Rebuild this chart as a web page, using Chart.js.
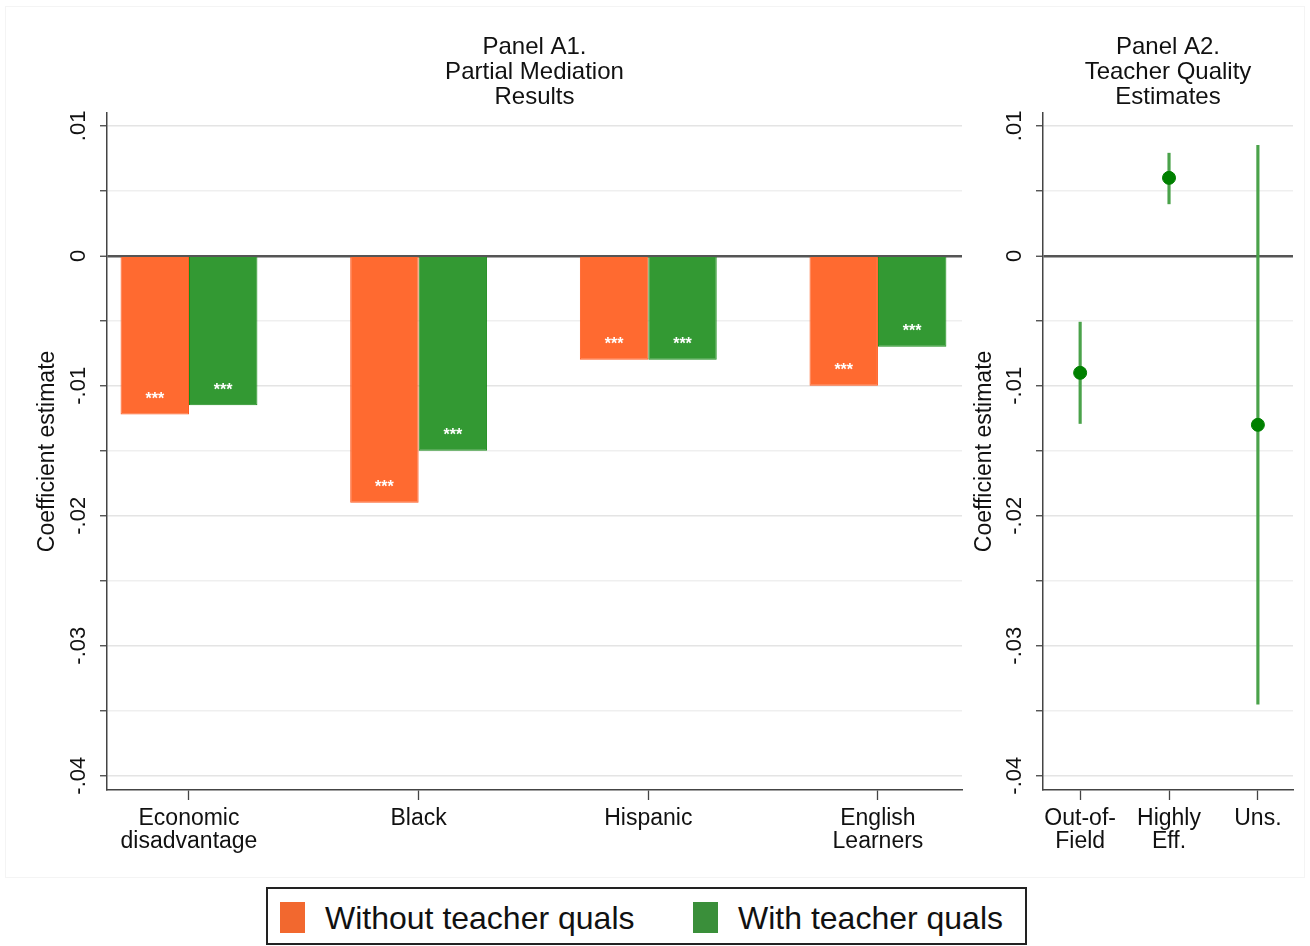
<!DOCTYPE html>
<html>
<head>
<meta charset="utf-8">
<script src="https://cdn.jsdelivr.net/npm/chart.js@4.4.1/dist/chart.umd.min.js"></script>
<style>
  body { margin: 0; background: #fff; font-family: "Liberation Sans", Arial, sans-serif; }
  #wrap { position: relative; width: 1310px; height: 946px; }
  #frame { position: absolute; left: 5px; top: 6px; width: 1300px; height: 872px; border: 1px solid #f4f4f4; box-sizing: border-box; }
  canvas.panel { position: absolute; left: 0; top: 0; }
  #legend { position: absolute; left: 266px; top: 887px; width: 761px; height: 58px; border: 2px solid #222; box-sizing: border-box; }
  #legend .sw { position: absolute; top: 13px; width: 25px; height: 31px; }
  #legend .lb { position: absolute; top: 9px; font-size: 32px; color: #111; line-height: 40px; white-space: nowrap; }
</style>
</head>
<body>
<div id="wrap">
  <div id="frame"></div>
  <canvas id="panelA1" class="panel" width="1310" height="878"></canvas>
  <canvas id="panelA2" class="panel" width="1310" height="878"></canvas>
  <div id="legend">
    <div class="sw" style="left:12px;background:#f2682f;"></div>
    <div class="lb" style="left:57px;">Without teacher quals</div>
    <div class="sw" style="left:425px;background:#3a8f3a;"></div>
    <div class="lb" style="left:470px;">With teacher quals</div>
  </div>
</div>
<script>
// Panel A1 data: partial mediation results.
const categoriesA1 = [['Economic', 'disadvantage'], 'Black', 'Hispanic', ['English', 'Learners']];
const withoutQuals = [-0.0122, -0.0190, -0.0080, -0.0100];
const withQuals = [-0.0115, -0.0150, -0.0080, -0.0070];
const starsWithout = ['***', '***', '***', '***'];
const starsWith = ['***', '***', '***', '***'];

// Panel A2 data: teacher quality estimates with confidence intervals.
const categoriesA2 = [['Out-of-', 'Field'], ['Highly', 'Eff.'], 'Uns.'];
const estimatesA2 = [-0.0090, 0.0060, -0.0130];
const lowerA2 = [-0.0129, 0.0040, -0.0345];
const upperA2 = [-0.0051, 0.0079, 0.0085];

// Shared y axis ticks.
const yTickValues = [0.01, 0.005, 0, -0.005, -0.01, -0.015, -0.02, -0.025, -0.03, -0.035, -0.04];
const yTickLabels = ['.01', '', '0', '', '-.01', '', '-.02', '', '-.03', '', '-.04'];

const FONT = '"Liberation Sans", Arial, sans-serif';
const TEXT = '#111';
const AXIS = '#444';

// Draws the significance stars inside each bar.
const starsPlugin = {
  id: 'stars',
  afterDatasetsDraw(chart) {
    const ctx = chart.ctx;
    const lists = [starsWithout, starsWith];
    ctx.save();
    ctx.font = 'bold 16px ' + FONT;
    ctx.fillStyle = '#ffffff';
    ctx.textAlign = 'center';
    ctx.textBaseline = 'middle';
    lists.forEach((stars, d) => {
      chart.getDatasetMeta(d).data.forEach((bar, i) => {
        ctx.fillText(stars[i], bar.x, bar.y - 15);
      });
    });
    ctx.restore();
  }
};

const yScale = (axisWidth, titlePad) => ({
  min: -0.0411,
  max: 0.0110,
  afterBuildTicks: (scale) => { scale.ticks = yTickValues.map(v => ({ value: v })); },
  afterFit: (scale) => { scale.width = axisWidth; },
  ticks: {
    callback: (value, index) => yTickLabels[index],
    minRotation: 90,
    maxRotation: 90,
    crossAlign: 'center',
    padding: 2,
    color: TEXT,
    font: { family: FONT, size: 22 }
  },
  grid: {
    color: (c) => c.tick && c.tick.value === 0 ? '#555' : (yTickLabels[c.index] ? '#e4e4e4' : '#efefef'),
    lineWidth: (c) => c.tick && c.tick.value === 0 ? 2.5 : 1.5,
    tickColor: AXIS,
    tickWidth: 1.3,
    tickLength: 7
  },
  border: { color: AXIS, width: 1.5 },
  title: {
    display: true,
    text: 'Coefficient estimate',
    color: TEXT,
    font: { family: FONT, size: 23 },
    padding: { top: titlePad, bottom: 0 }
  }
});

const xScale = (labels, min, max) => ({
  type: 'linear',
  min: min,
  max: max,
  offset: false,
  afterBuildTicks: (scale) => { scale.ticks = labels.map((_, i) => ({ value: i })); },
  afterFit: (scale) => { scale.height = 88; },
  ticks: {
    callback: (value, index) => labels[index],
    maxRotation: 0,
    padding: 7,
    color: TEXT,
    font: { family: FONT, size: 23, lineHeight: 1.0 }
  },
  grid: {
    offset: false,
    drawOnChartArea: false,
    tickColor: AXIS,
    tickWidth: 1.3,
    tickLength: 10
  },
  border: { color: AXIS, width: 1.5 }
});

const titleOpts = (lines) => ({
  display: true,
  text: lines,
  fullSize: false,
  color: TEXT,
  font: { family: FONT, size: 24, weight: 'normal', lineHeight: 1.04 },
  padding: { top: 35, bottom: 3 }
});

// Panel A1: grouped bars.
new Chart(document.getElementById('panelA1'), {
  type: 'bar',
  data: {
    datasets: [
      {
        label: 'Without teacher quals',
        data: withoutQuals.map((v, i) => ({ x: i, y: v })),
        backgroundColor: '#ff6a30',
        borderColor: '#ff5a1f',
        borderWidth: 1
      },
      {
        label: 'With teacher quals',
        data: withQuals.map((v, i) => ({ x: i, y: v })),
        backgroundColor: '#339933',
        borderColor: '#1a8c1a',
        borderWidth: 1
      }
    ]
  },
  options: {
    responsive: false,
    animation: false,
    layout: { padding: { left: 0, right: 348, top: 0, bottom: 0 } },
    barPercentage: 1,
    categoryPercentage: 0.596,
    scales: {
      x: xScale(categoriesA1, -0.357, 3.366),
      y: yScale(107, 34)
    },
    plugins: {
      legend: { display: false },
      tooltip: { enabled: false },
      title: titleOpts(['Panel A1.', 'Partial Mediation', 'Results'])
    }
  },
  plugins: [starsPlugin]
});

// Panel A2: point estimates with confidence intervals.
new Chart(document.getElementById('panelA2'), {
  data: {
    datasets: [
      {
        type: 'scatter',
        data: estimatesA2.map((v, i) => ({ x: i, y: v })),
        backgroundColor: '#008000',
        borderColor: '#008000',
        pointRadius: 6.5,
        order: 0
      },
      {
        type: 'bar',
        data: lowerA2.map((v, i) => ({ x: i, y: [v, upperA2[i]] })),
        backgroundColor: '#4aa24a',
        borderWidth: 0,
        barThickness: 2.5,
        order: 1
      }
    ]
  },
  options: {
    responsive: false,
    animation: false,
    layout: { padding: { left: 960, right: 17, top: 0, bottom: 0 } },
    scales: {
      x: xScale(categoriesA2, -0.418, 2.395),
      y: yScale(83, 11)
    },
    plugins: {
      legend: { display: false },
      tooltip: { enabled: false },
      title: titleOpts(['Panel A2.', 'Teacher Quality', 'Estimates'])
    }
  }
});
</script>
</body>
</html>
